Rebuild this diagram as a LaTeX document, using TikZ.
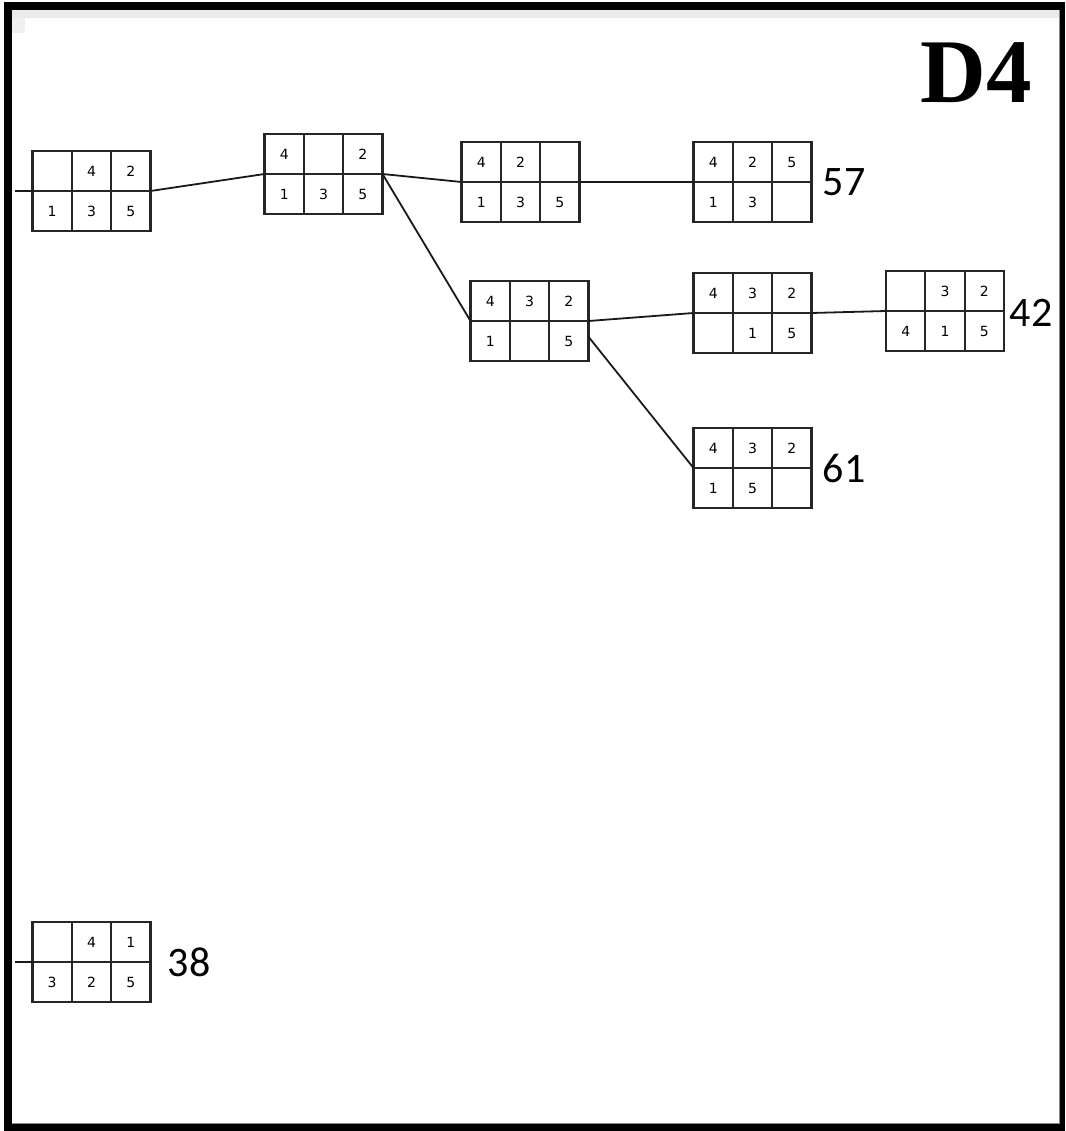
\documentclass[tikz,border=0pt]{standalone}
\usepackage{fontspec}
\setmainfont{Liberation Serif}
\newfontfamily\digitfont{DejaVu Sans}
\newfontfamily\labelfont{Carlito}
\begin{document}
\begin{tikzpicture}[x=1pt,y=-1pt,
  pb/.style={draw=black!85,line width=2.2pt,minimum width=118pt,minimum height=80pt,inner sep=0pt,outer sep=0pt},
  pbl/.style={draw=black!85,line width=2.2pt},
  dg/.style={inner sep=0pt,font=\digitfont\fontsize{14}{14}\selectfont},
  lab/.style={inner sep=0pt,font=\labelfont\fontsize{42}{42}\selectfont},
  conn/.style={line width=1.8pt,draw=black!90}]
\useasboundingbox (0,0) rectangle (1065,1131);
% frame
\fill[black] (4,2) rectangle (1065,1131);
\fill[white] (12,10) rectangle (1060,1124);
\fill[black!8] (12,10) rectangle (1060,18);
\fill[black!6] (12,18) rectangle (25,33);
\draw[black!45,line width=1pt] (12,1123.5) -- (1059.5,1123.5) -- (1059.5,10);
% title
\node[inner sep=0pt,font=\bfseries\fontsize{91}{91}\selectfont] (title) at (976,73) {D4};
\newcommand\pbox[8]{%
  \node[pb] (#1) at (#2) {};
  \begin{scope}[shift={(#2)}]
    \draw[pbl] (-19.67,-40) -- (-19.67,40) (19.67,-40) -- (19.67,40) (-59,0) -- (59,0);
    \node[dg] (#1a) at (-39.3,-20) {#3};
    \node[dg] (#1b) at (0,-20) {#4};
    \node[dg] (#1c) at (39.3,-20) {#5};
    \node[dg] (#1d) at (-39.3,20) {#6};
    \node[dg] (#1e) at (0,20) {#7};
    \node[dg] (#1f) at (39.3,20) {#8};
  \end{scope}}
\pbox{b1}{91.5,191}{}{4}{2}{1}{3}{5}
\pbox{b2}{323.5,174}{4}{}{2}{1}{3}{5}
\pbox{b3}{520.5,182}{4}{2}{}{1}{3}{5}
\pbox{b4}{752.5,182}{4}{2}{5}{1}{3}{}
\pbox{b5}{529.5,321}{4}{3}{2}{1}{}{5}
\pbox{b6}{752.5,313}{4}{3}{2}{}{1}{5}
\pbox{b7}{945,311}{}{3}{2}{4}{1}{5}
\pbox{b8}{752.5,468}{4}{3}{2}{1}{5}{}
\pbox{b9}{91.5,962}{}{4}{1}{3}{2}{5}
% labels
\node[lab] (l57) at (844,182) {57};
\node[lab] (l42) at (1031,313) {42};
\node[lab] (l61) at (844,468) {61};
\node[lab] (l38) at (189,962) {38};
% connectors
\coordinate (in1) at (15,191);
\coordinate (in9) at (15,962);
\draw[conn] (in1) -- (b1.west);
\draw[conn] (in9) -- (b9.west);
\draw[conn] (b1.east) -- (b2.west);
\draw[conn] (b2.east) -- (b3.west);
\draw[conn] (b2.east) -- (b5.west);
\draw[conn] (b3.east) -- (b4.west);
\draw[conn] (b5.east) -- (b6.west);
\draw[conn] (b5.-15) -- (b8.west);
\draw[conn] (b6.east) -- (b7.west);
\end{tikzpicture}
\end{document}
